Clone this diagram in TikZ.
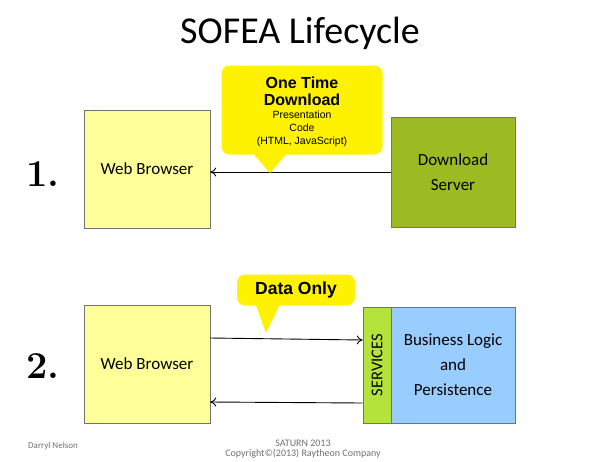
\documentclass[tikz,border=0pt]{standalone}
\usepackage{fontspec}
\setmainfont{Carlito}
\newfontfamily\arialfont{Liberation Sans}
\newfontfamily\numfont{Latin Modern Roman}
\usetikzlibrary{shadows,arrows.meta}

\definecolor{paleyellow}{HTML}{FFFF99}
\definecolor{calloutyellow}{HTML}{FFF200}
\definecolor{servergreen}{HTML}{9CBB22}
\definecolor{servicegreen}{HTML}{B4E43C}
\definecolor{logicblue}{HTML}{99CCFF}
\definecolor{footergray}{HTML}{707070}

\newcommand{\bigline}{\bfseries\fontsize{16}{18}\selectfont}

\begin{document}
\begin{tikzpicture}[x=1pt,y=-1pt,>={To[length=6pt,width=9pt]},
    box/.style={draw=black!55,line width=0.6pt,align=center,
        font=\fontsize{17}{25}\selectfont,inner sep=0pt,
        drop shadow={opacity=0.35,shadow xshift=1.2pt,shadow yshift=-1.2pt}},
    bubble/.style={fill=calloutyellow,rounded corners=8pt,align=center,inner sep=0pt},
    flow/.style={->,line width=0.9pt}]
        \useasboundingbox (0,0) rectangle (605,461);

        % draw the title
        \node (title) at (300,33) {\fontsize{38}{42}\selectfont SOFEA Lifecycle};

        % draw the step numbers
        \foreach \y/\ytext in {174/1., 366/2.}
                \node at (43,\y) {\numfont\bfseries\fontsize{38}{42}\selectfont\ytext};

        % the first step
        \node[box,fill=paleyellow,minimum width=126pt,minimum height=118pt] (wb1) at (147,169) {Web Browser};
        \node[box,fill=servergreen,minimum width=124pt,minimum height=110pt] (dl) at (453,172) {Download\\Server};
        \draw[flow] (dl.west) -- (wb1.east |- dl.west);

        % callout of the first step
        \node[bubble,minimum width=161pt,minimum height=89pt] (once) at (302,110) {};
        \coordinate (tip1) at (270,173);
        \fill[calloutyellow] (250,150) -- (290,150) -- (tip1) -- cycle;
        \node[align=center,font=\arialfont\fontsize{10.5}{13}\selectfont] (oncetext) at ([yshift=-1.5pt]once)
            {\bigline One Time\\[4pt]\bigline Download\\[0pt]Presentation\\Code\\(HTML, JavaScript)};

        % the second step
        \node[box,fill=paleyellow,minimum width=126pt,minimum height=118pt] (wb2) at (147,364) {Web Browser};
        \node[box,fill=logicblue,minimum width=124pt,minimum height=116pt] (logic) at (453,365) {Business Logic\\and\\Persistence};
        \node[box,fill=servicegreen,minimum width=28pt,minimum height=116pt] (svc) at (377,365) {};
        \node[rotate=90,font=\fontsize{16.5}{18}\selectfont] at (svc) {SERVICES};
        \draw[flow] ([yshift=26pt]wb2.east) -- ([yshift=25pt]svc.west);
        \draw[flow] ([yshift=-38pt]svc.west) -- ([yshift=-38pt]wb2.east);

        % callout of the second step
        \node[bubble,minimum width=118pt,minimum height=31pt,font=\arialfont\bfseries\fontsize{17.5}{19}\selectfont] (data) at (296,290) {Data Only};
        \coordinate (tip2) at (266,333);
        \fill[calloutyellow] (254,300) -- (282,300) -- (tip2) -- cycle;

        % footer
        \node[text=footergray,font=\fontsize{9}{10}\selectfont] (author) at (53,446) {Darryl Nelson};
        \node[text=footergray,font=\fontsize{10}{10.5}\selectfont,align=center] (conf) at (303,449) {SATURN 2013\\Copyright\textcopyright(2013) Raytheon Company};
\end{tikzpicture}
\end{document}
